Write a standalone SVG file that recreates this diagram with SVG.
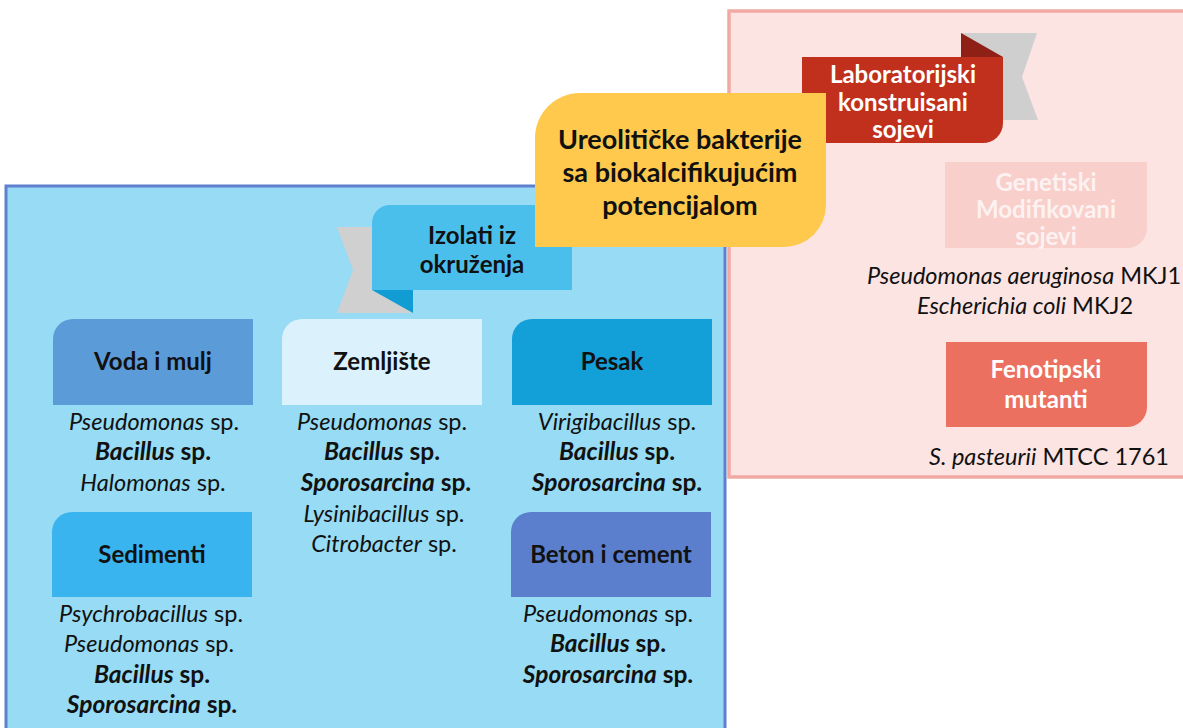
<svg xmlns="http://www.w3.org/2000/svg" width="1183" height="728" viewBox="0 0 1183 728">
  <style>
    text { font-family: Lato, "Open Sans", "Liberation Sans", sans-serif; text-anchor: middle; }
    .hd { font-size: 24px; font-weight: bold; fill: #111; }
    .hw { font-size: 24px; font-weight: bold; fill: #fff; }
    .sp { font-size: 23.5px; fill: #111; }
    .i { font-style: italic; }
    .b { font-weight: bold; font-size: 24.5px; }
  </style>

  <!-- environmental isolates panel -->
  <g id="panel-env">
    <rect x="6" y="186" width="719" height="560" fill="#97dbf4" stroke="#5f80cf" stroke-width="3"/>
  </g>

  <!-- laboratory strains panel -->
  <g id="panel-lab">
    <rect x="729" y="11" width="470" height="466" fill="#fbe4e2" stroke="#f1a9a2" stroke-width="3.5"/>
  </g>

  <!-- ribbon: environmental isolates -->
  <g id="ribbon-env">
    <polygon points="337,227 380,227 413,313 337,313 353,270" fill="#d0d0d0"/>
    <polygon points="372,290 413,313 413,290" fill="#129cd4"/>
    <path d="M372,223 A18,18 0 0 1 390,205 H572 V290 H372 Z" fill="#4bbfec"/>
    <text class="hd" x="472" y="244">Izolati iz</text>
    <text class="hd" x="472" y="273">okruženja</text>
  </g>

  <!-- ribbon: laboratory constructed strains -->
  <g id="ribbon-lab">
    <polygon points="961,33 1037,33 1022,77 1038,120 1003,120 961,57" fill="#cfcfcf"/>
    <polygon points="961,33 1003,57 961,57" fill="#8e2016"/>
    <path d="M802,57 H1003 V123 A20,20 0 0 1 983,143 H802 Z" fill="#c0301c"/>
    <text class="hw" x="903" y="83">Laboratorijski</text>
    <text class="hw" x="903" y="111">konstruisani</text>
    <text class="hw" x="903" y="138">sojevi</text>
  </g>

  <!-- central title -->
  <g id="title">
    <path d="M535,138 A45,45 0 0 1 580,93 H826 V205 A42,42 0 0 1 784,247 H535 Z" fill="#fec94c"/>
    <text class="hd" x="680" y="149" style="font-size:27px">Ureolitičke bakterije</text>
    <text class="hd" x="680" y="182" style="font-size:27px">sa biokalcifikujućim</text>
    <text class="hd" x="680" y="215" style="font-size:27px">potencijalom</text>
  </g>

  <!-- genetically modified strains -->
  <g id="node-genetic">
    <path d="M945,162 H1147 V228 A20,20 0 0 1 1127,248 H945 Z" fill="#f8cfcb"/>
    <text class="hw" x="1046" y="191" style="fill:#fdf2f1">Genetiski</text>
    <text class="hw" x="1046" y="218" style="fill:#fdf2f1">Modifikovani</text>
    <text class="hw" x="1046" y="245" style="fill:#fdf2f1">sojevi</text>
    <text class="sp" x="1024" y="284"><tspan class="i">Pseudomonas aeruginosa</tspan> MKJ1</text>
    <text class="sp" x="1025" y="314"><tspan class="i">Escherichia coli</tspan> MKJ2</text>
  </g>

  <!-- phenotypic mutants -->
  <g id="node-mutants">
    <path d="M946,342 H1147 V407 A20,20 0 0 1 1127,427 H946 Z" fill="#ec7060"/>
    <text class="hw" x="1046" y="378">Fenotipski</text>
    <text class="hw" x="1046" y="408">mutanti</text>
    <text class="sp" x="1049" y="465"><tspan class="i">S. pasteurii</tspan> MTCC 1761</text>
  </g>

  <!-- water and sludge -->
  <g id="node-voda">
    <path d="M53,339 A20,20 0 0 1 73,319 H253 V405 H53 Z" fill="#5b9bd8"/>
    <text class="hd" x="153" y="370">Voda i mulj</text>
    <text class="sp" x="154" y="430"><tspan class="i">Pseudomonas</tspan> sp.</text>
    <text class="sp b" x="153" y="460"><tspan class="i">Bacillus</tspan> sp.</text>
    <text class="sp" x="153" y="491"><tspan class="i">Halomonas</tspan> sp.</text>
  </g>

  <!-- soil -->
  <g id="node-zemljiste">
    <path d="M282,339 A20,20 0 0 1 302,319 H482 V405 H282 Z" fill="#dbf1fb"/>
    <text class="hd" x="382" y="370">Zemljište</text>
    <text class="sp" x="382" y="430"><tspan class="i">Pseudomonas</tspan> sp.</text>
    <text class="sp b" x="382" y="460"><tspan class="i">Bacillus</tspan> sp.</text>
    <text class="sp b" x="386" y="491"><tspan class="i">Sporosarcina</tspan> sp.</text>
    <text class="sp" x="384" y="522"><tspan class="i">Lysinibacillus</tspan> sp.</text>
    <text class="sp" x="384" y="552"><tspan class="i">Citrobacter</tspan> sp.</text>
  </g>

  <!-- sand -->
  <g id="node-pesak">
    <path d="M512,339 A20,20 0 0 1 532,319 H712 V405 H512 Z" fill="#139fd7"/>
    <text class="hd" x="612" y="370">Pesak</text>
    <text class="sp" x="617" y="430"><tspan class="i">Virigibacillus</tspan> sp.</text>
    <text class="sp b" x="617" y="460"><tspan class="i">Bacillus</tspan> sp.</text>
    <text class="sp b" x="617" y="491"><tspan class="i">Sporosarcina</tspan> sp.</text>
  </g>

  <!-- sediments -->
  <g id="node-sedimenti">
    <path d="M52,532 A20,20 0 0 1 72,512 H252 V597 H52 Z" fill="#3ab4ef"/>
    <text class="hd" x="152" y="563">Sedimenti</text>
    <text class="sp" x="151" y="622"><tspan class="i">Psychrobacillus</tspan> sp.</text>
    <text class="sp" x="149" y="652"><tspan class="i">Pseudomonas</tspan> sp.</text>
    <text class="sp b" x="152" y="683"><tspan class="i">Bacillus</tspan> sp.</text>
    <text class="sp b" x="152" y="713"><tspan class="i">Sporosarcina</tspan> sp.</text>
  </g>

  <!-- concrete and cement -->
  <g id="node-beton">
    <path d="M511,532 A20,20 0 0 1 531,512 H711 V597 H511 Z" fill="#5b7fcd"/>
    <text class="hd" x="611" y="563">Beton i cement</text>
    <text class="sp" x="608" y="622"><tspan class="i">Pseudomonas</tspan> sp.</text>
    <text class="sp b" x="608" y="652"><tspan class="i">Bacillus</tspan> sp.</text>
    <text class="sp b" x="608" y="683"><tspan class="i">Sporosarcina</tspan> sp.</text>
  </g>

  <!-- no connectors are drawn between the nodes -->
  <g id="connectors"/>
</svg>
